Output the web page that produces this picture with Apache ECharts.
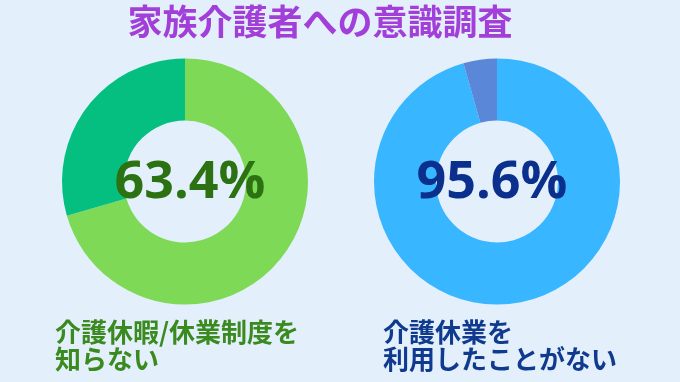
<!DOCTYPE html>
<html>
<head>
<meta charset="utf-8">
<script src="https://cdn.jsdelivr.net/npm/echarts@6/dist/echarts.min.js"></script>
<style>
html,body{margin:0;padding:0;background:#e3effb;}
#chart{width:680px;height:382px;}
</style>
</head>
<body>
<div id="chart"></div>
<script>
const titleText = '家族介護者への意識調査';
const leftCategories = ['知らない', '知っている'];
const leftValues = [70.5, 29.5];
const leftPercent = '63.4%';
const leftCaption = '介護休暇/休業制度を\n知らない';
const rightCategories = ['利用したことがない', '利用したことがある'];
const rightValues = [95.6, 4.4];
const rightPercent = '95.6%';
const rightCaption = '介護休業を\n利用したことがない';

const chart = echarts.init(document.getElementById('chart'));
const cjk = '"Noto Sans CJK JP", "Noto Sans", sans-serif';
const numFont = '"Open Sans", "Noto Sans", sans-serif';

function pie(center, cats, vals, colors) {
  return {
    type: 'pie',
    center: center,
    radius: [61, 123],
    startAngle: 90,
    clockwise: true,
    silent: true,
    z: 1,
    label: { show: false },
    labelLine: { show: false },
    itemStyle: { borderWidth: 0 },
    data: cats.map((c, i) => ({ name: c, value: vals[i], itemStyle: { color: colors[i] } }))
  };
}

chart.setOption({
  backgroundColor: '#e3effb',
  animation: false,
  graphic: [
    { type: 'text', z: 100, x: 320, y: 4, style: { text: titleText, fill: '#a23fd9', font: 'bold 35px ' + cjk, textAlign: 'center' } },
    { type: 'text', z: 100, x: 190, y: 183, style: { text: leftPercent, fill: '#2c7212', font: 'bold 52px ' + numFont, textAlign: 'center', textVerticalAlign: 'middle' } },
    { type: 'text', z: 100, x: 492, y: 183, style: { text: rightPercent, fill: '#0b2f8c', font: 'bold 52px ' + numFont, textAlign: 'center', textVerticalAlign: 'middle' } },
    { type: 'text', z: 100, left: 55, top: 319, style: { text: leftCaption, fill: '#3a8a1f', font: 'bold 26px ' + cjk, lineHeight: 27 } },
    { type: 'text', z: 100, left: 383, top: 319, style: { text: rightCaption, fill: '#103a8e', font: 'bold 26px ' + cjk, lineHeight: 27 } }
  ],
  series: [
    pie([185, 181.5], leftCategories, leftValues, ['#7ed957', '#04bf7f']),
    pie([497, 181.5], rightCategories, rightValues, ['#38b6ff', '#5b87d8'])
  ]
});
</script>
</body>
</html>
